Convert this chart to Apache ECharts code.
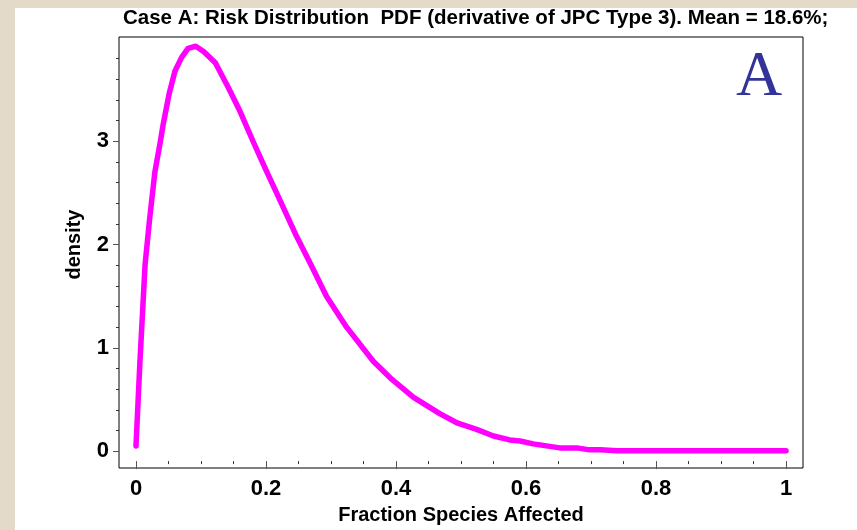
<!DOCTYPE html>
<html>
<head>
<meta charset="utf-8">
<script src="https://cdn.jsdelivr.net/npm/echarts@6/dist/echarts.min.js"></script>
<style>
  html, body { margin: 0; padding: 0; }
  body { width: 857px; height: 530px; background: #e4dac9; position: relative; overflow: hidden; }
  #paper { position: absolute; left: 15px; top: 8px; right: 0; bottom: 0; background: #fff; }
  #main { position: absolute; left: 0; top: 0; width: 857px; height: 530px; }
</style>
</head>
<body>
<div id="paper"></div>
<div id="main"></div>
<script>
// fraction of species affected vs density
var fraction = [0, 0.006, 0.014, 0.021, 0.029, 0.037, 0.042, 0.051, 0.06, 0.07, 0.08, 0.092,
    0.104, 0.122, 0.142, 0.16, 0.18, 0.2, 0.22, 0.247, 0.268, 0.293, 0.324, 0.365, 0.391,
    0.427, 0.468, 0.495, 0.524, 0.55, 0.575, 0.591, 0.611, 0.652, 0.678, 0.698, 0.714,
    0.74, 0.8, 0.9, 1.0];
var density = [0.05, 0.86, 1.81, 2.25, 2.70, 2.98, 3.17, 3.46, 3.68, 3.81, 3.90, 3.92,
    3.87, 3.76, 3.52, 3.29, 3.0, 2.72, 2.45, 2.08, 1.82, 1.50, 1.20, 0.87, 0.71,
    0.52, 0.36, 0.27, 0.21, 0.146, 0.108, 0.098, 0.07, 0.031, 0.031, 0.012, 0.012,
    0.003, 0.003, 0.003, 0.003];
var xTicks = [0, 0.2, 0.4, 0.6, 0.8, 1];
var yTicks = [0, 1, 2, 3];

var titleText = 'Case A: Risk Distribution  PDF (derivative of JPC Type 3). Mean = 18.6%;';
var narrow = '"Liberation Sans Narrow", "Arial Narrow", "Liberation Sans", sans-serif';

var pts = [];
for (var i = 0; i < fraction.length; i++) {
    pts.push([fraction[i], density[i]]);
}

var myChart = echarts.init(document.getElementById('main'));
var option = {
    backgroundColor: 'transparent',
    animation: false,
    title: [{
        text: titleText,
        left: 118,
        top: 3,
        textStyle: { fontFamily: narrow, fontWeight: 'bold', fontSize: 20.5, color: '#000' }
    }, {
        text: 'A',
        left: 731,
        top: 41,
        textStyle: { fontFamily: '"Liberation Serif", "Times New Roman", serif', fontWeight: 'normal', fontSize: 64, color: '#333399' }
    }],
    grid: [{
        // frame box
        left: 119, right: 54, top: 37, bottom: 62,
        show: true, borderColor: '#000', borderWidth: 1, backgroundColor: 'transparent'
    }, {
        left: 136, right: 71, top: 38, bottom: 72
    }],
    xAxis: [{
        gridIndex: 0, type: 'value', show: false
    }, {
        gridIndex: 1,
        type: 'value',
        min: 0, max: 1, interval: 0.2,
        offset: 10,
        name: 'Fraction Species Affected',
        nameLocation: 'middle',
        nameGap: 43,
        nameTextStyle: { fontFamily: narrow, fontWeight: 'bold', fontSize: 20, color: '#000' },
        axisLine: { show: false, onZero: false },
        axisTick: { show: true, length: 8, lineStyle: { color: '#555' }, customValues: xTicks },
        minorTick: { show: true, splitNumber: 4, length: 3, lineStyle: { color: '#333' } },
        axisLabel: { margin: 17, customValues: xTicks, fontFamily: narrow, fontWeight: 'bold', fontSize: 22, color: '#000' },
        splitLine: { show: false }
    }],
    yAxis: [{
        gridIndex: 0, type: 'value', show: false
    }, {
        gridIndex: 1,
        type: 'value',
        min: 0, max: 4, interval: 1,
        offset: 17,
        name: 'density',
        nameLocation: 'middle',
        nameGap: 35,
        nameTextStyle: { fontFamily: narrow, fontWeight: 'bold', fontSize: 20, color: '#000' },
        axisLine: { show: false, onZero: false },
        axisTick: { show: true, length: 6, lineStyle: { color: '#555' }, customValues: yTicks },
        minorTick: { show: true, splitNumber: 5, length: 3, lineStyle: { color: '#333' } },
        axisLabel: { margin: 10, customValues: yTicks, fontFamily: narrow, fontWeight: 'bold', fontSize: 22, color: '#000' },
        splitLine: { show: false }
    }],
    series: [{
        type: 'line',
        xAxisIndex: 1,
        yAxisIndex: 1,
        data: pts,
        symbol: 'none',
        smooth: false,
        clip: false,
        lineStyle: { color: '#ff00ff', width: 5.5, cap: 'round', join: 'round' }
    }]
};
myChart.setOption(option);
</script>
</body>
</html>
